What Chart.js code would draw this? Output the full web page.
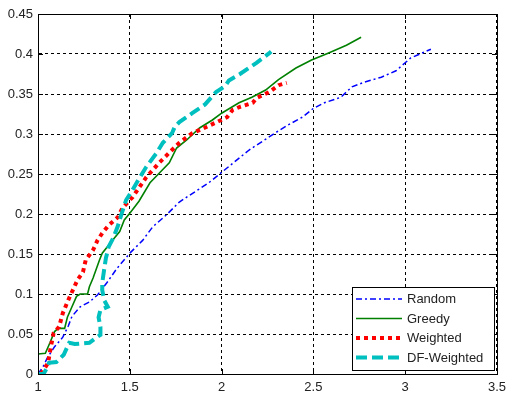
<!DOCTYPE html>
<html>
<head>
<meta charset="utf-8">
<script src="https://cdn.jsdelivr.net/npm/chart.js@4/dist/chart.umd.min.js"></script>
<style>
  html, body { margin: 0; padding: 0; background: #fff; }
  #wrap { width: 512px; height: 393px; }
</style>
</head>
<body>
<div id="wrap"><canvas id="c" width="512" height="393"></canvas></div>
<script>
const seriesNames = ['Random', 'Greedy', 'Weighted', 'DF-Weighted'];
const xTicks = [1, 1.5, 2, 2.5, 3, 3.5];
const yTicks = [0, 0.05, 0.1, 0.15, 0.2, 0.25, 0.3, 0.35, 0.4, 0.45];

const randomX = [1.0, 1.03, 1.05, 1.09, 1.135, 1.165, 1.185, 1.23, 1.28, 1.325, 1.375, 1.43, 1.5, 1.57, 1.625, 1.70, 1.77, 1.81, 1.93, 2.0, 2.15, 2.29, 2.36, 2.44, 2.50, 2.56, 2.65, 2.71, 2.78, 2.87, 2.95, 3.0, 3.03, 3.09, 3.14];
const randomY = [0.0, 0.01, 0.02, 0.034, 0.046, 0.06, 0.072, 0.084, 0.09, 0.099, 0.114, 0.132, 0.151, 0.167, 0.184, 0.199, 0.215, 0.221, 0.239, 0.252, 0.28, 0.301, 0.311, 0.321, 0.332, 0.339, 0.346, 0.359, 0.365, 0.371, 0.379, 0.389, 0.395, 0.401, 0.406];

const greedyX = [1.0, 1.0, 1.04, 1.065, 1.09, 1.11, 1.145, 1.16, 1.185, 1.21, 1.23, 1.27, 1.28, 1.30, 1.335, 1.35, 1.405, 1.445, 1.47, 1.5, 1.55, 1.61, 1.66, 1.715, 1.755, 1.81, 1.88, 1.95, 2.0, 2.095, 2.165, 2.24, 2.31, 2.405, 2.49, 2.58, 2.68, 2.76];
const greedyY = [0.014, 0.025, 0.026, 0.039, 0.053, 0.057, 0.057, 0.071, 0.084, 0.097, 0.1, 0.1, 0.109, 0.12, 0.1425, 0.151, 0.167, 0.178, 0.1925, 0.201, 0.216, 0.239, 0.251, 0.264, 0.2825, 0.2925, 0.3075, 0.3175, 0.326, 0.339, 0.346, 0.355, 0.368, 0.3825, 0.3925, 0.401, 0.411, 0.421];

const weightedX = [1.015, 1.03, 1.055, 1.07, 1.085, 1.115, 1.135, 1.165, 1.195, 1.215, 1.245, 1.26, 1.30, 1.325, 1.35, 1.385, 1.435, 1.46, 1.49, 1.515, 1.59, 1.66, 1.73, 1.77, 1.84, 1.92, 2.03, 2.06, 2.10, 2.17, 2.19, 2.26, 2.31, 2.355];
const weightedY = [0.0, 0.005, 0.014, 0.034, 0.051, 0.059, 0.076, 0.0925, 0.1075, 0.1175, 0.1275, 0.1425, 0.155, 0.1675, 0.176, 0.186, 0.196, 0.2075, 0.215, 0.221, 0.246, 0.264, 0.28, 0.289, 0.301, 0.309, 0.321, 0.33, 0.334, 0.339, 0.345, 0.3525, 0.361, 0.364];

const dfX = [1.0, 1.03, 1.05, 1.06, 1.10, 1.14, 1.16, 1.17, 1.20, 1.28, 1.32, 1.34, 1.34, 1.33, 1.34, 1.38, 1.36, 1.35, 1.35, 1.36, 1.37, 1.385, 1.41, 1.435, 1.455, 1.48, 1.515, 1.555, 1.59, 1.645, 1.68, 1.73, 1.745, 1.77, 1.84, 1.91, 1.97, 2.02, 2.04, 2.10, 2.19, 2.26, 2.27];
const dfY = [0.0, 0.0, 0.008, 0.014, 0.015, 0.024, 0.034, 0.039, 0.0375, 0.039, 0.046, 0.049, 0.059, 0.071, 0.08, 0.084, 0.0925, 0.105, 0.114, 0.13, 0.145, 0.159, 0.17, 0.185, 0.2, 0.2175, 0.23, 0.246, 0.259, 0.276, 0.289, 0.301, 0.309, 0.315, 0.326, 0.337, 0.3525, 0.36, 0.367, 0.375, 0.389, 0.401, 0.403];

function pts(xs, ys) { return xs.map((x, i) => ({ x: x, y: ys[i] })); }

const FONT = '"Liberation Sans", Arial, sans-serif';

const frameAndLegend = {
  id: 'frameAndLegend',
  afterDraw(chart) {
    const ctx = chart.ctx;
    const a = chart.chartArea;
    const xs = chart.scales.x, ys = chart.scales.y;
    ctx.save();
    ctx.strokeStyle = '#000';
    ctx.lineWidth = 1;
    ctx.setLineDash([]);
    ctx.beginPath();
    xTicks.forEach(v => {
      const px = Math.round(xs.getPixelForValue(v)) + 0.5;
      ctx.moveTo(px, a.bottom); ctx.lineTo(px, a.bottom - 5);
      ctx.moveTo(px, a.top); ctx.lineTo(px, a.top + 5);
    });
    yTicks.forEach(v => {
      const py = Math.round(ys.getPixelForValue(v)) + 0.5;
      ctx.moveTo(a.left, py); ctx.lineTo(a.left + 5, py);
      ctx.moveTo(a.right, py); ctx.lineTo(a.right - 5, py);
    });
    ctx.stroke();
    ctx.strokeRect(Math.round(a.left) + 0.5, Math.round(a.top) + 0.5, Math.round(a.right - a.left), Math.round(a.bottom - a.top));

    const bx = 352.5, by = 287.5, bw = 142, bh = 83;
    ctx.fillStyle = '#fff';
    ctx.fillRect(bx, by, bw, bh);
    ctx.strokeStyle = '#000';
    ctx.lineWidth = 1;
    ctx.strokeRect(bx, by, bw, bh);
    const rows = [299, 318.5, 338, 357.5];
    chart.data.datasets.forEach((ds, i) => {
      const y = rows[i];
      ctx.save();
      ctx.strokeStyle = ds.borderColor;
      ctx.lineWidth = ds.borderWidth;
      ctx.setLineDash(ds.borderDash || []);
      ctx.beginPath();
      ctx.moveTo(356, y); ctx.lineTo(402, y);
      ctx.stroke();
      ctx.restore();
      ctx.fillStyle = '#222';
      ctx.font = '13px ' + FONT;
      ctx.textBaseline = 'middle';
      ctx.textAlign = 'left';
      ctx.fillText(ds.label, 407, y + 0.5);
    });
    ctx.restore();
  }
};

new Chart(document.getElementById('c'), {
  type: 'scatter',
  data: {
    datasets: [
      { label: seriesNames[0], data: pts(randomX, randomY), showLine: true, borderColor: '#0000ff', borderWidth: 1.5, borderDash: [6, 3, 2, 3], pointRadius: 0, order: 3 },
      { label: seriesNames[1], data: pts(greedyX, greedyY), showLine: true, borderColor: '#008000', borderWidth: 1.6, borderDash: [], pointRadius: 0, order: 2 },
      { label: seriesNames[2], data: pts(weightedX, weightedY), showLine: true, borderColor: '#ff0000', borderWidth: 4, borderDash: [4, 4], pointRadius: 0, order: 1 },
      { label: seriesNames[3], data: pts(dfX, dfY), showLine: true, borderColor: '#00bfbf', borderWidth: 4, borderDash: [11, 5], pointRadius: 0, order: 0 }
    ]
  },
  options: {
    responsive: false,
    animation: false,
    devicePixelRatio: 1,
    layout: { padding: { top: 14, right: 13, left: 0, bottom: 0 } },
    plugins: { legend: { display: false }, tooltip: { enabled: false } },
    scales: {
      x: {
        type: 'linear', min: 1, max: 3.5,
        afterFit: s => { s.height = 19; },
        afterBuildTicks: s => { s.ticks = xTicks.map(v => ({ value: v })); },
        ticks: { font: { size: 13, family: FONT }, color: '#222', padding: 6, maxRotation: 0,
                 callback: v => String(v) },
        grid: { color: '#000', lineWidth: 1, drawTicks: false },
        border: { display: true, color: '#000', dash: [3, 3] }
      },
      y: {
        type: 'linear', min: 0, max: 0.45,
        afterFit: s => { s.width = 38; },
        afterBuildTicks: s => { s.ticks = yTicks.map(v => ({ value: v })); },
        ticks: { font: { size: 13, family: FONT }, color: '#222', padding: 5,
                 callback: v => String(Math.round(v * 100) / 100) },
        grid: { color: '#000', lineWidth: 1, drawTicks: false },
        border: { display: true, color: '#000', dash: [3, 3] }
      }
    }
  },
  plugins: [frameAndLegend]
});
</script>
</body>
</html>
